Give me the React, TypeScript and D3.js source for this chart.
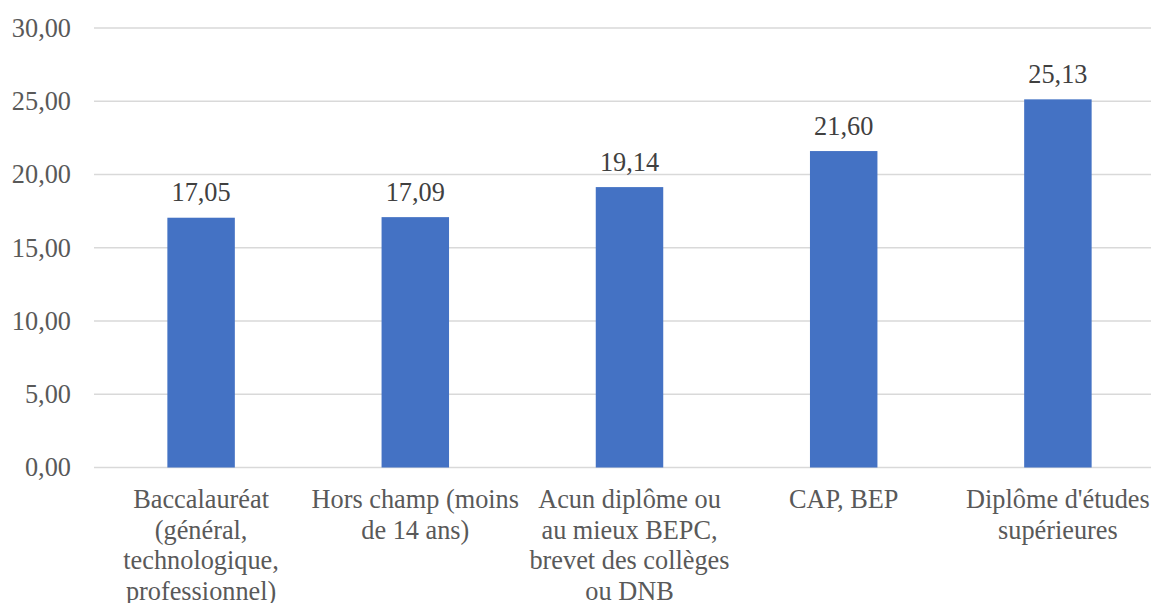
import React from "react";
import * as d3 from "d3";

const categories = [
  "Baccalauréat (général, technologique, professionnel)",
  "Hors champ (moins de 14 ans)",
  "Acun diplôme ou au mieux BEPC, brevet des collèges ou DNB",
  "CAP, BEP",
  "Diplôme d'études supérieures",
];
const categoryLines = [
  ["Baccalauréat", "(général,", "technologique,", "professionnel)"],
  ["Hors champ (moins", "de 14 ans)"],
  ["Acun diplôme ou", "au mieux BEPC,", "brevet des collèges", "ou DNB"],
  ["CAP, BEP"],
  ["Diplôme d'études", "supérieures"],
];
const values = [17.05, 17.09, 19.14, 21.6, 25.13];
const yTicks = [0, 5, 10, 15, 20, 25, 30];

const W = 1151;
const H = 603;
const left = 94;
const right = 1165;
const top = 28;
const bottom = 467.5;
const textColor = "#595959";

const fmt = (v: number) => v.toFixed(2).replace(".", ",");

export default function App() {
  const x = d3
    .scaleBand<string>()
    .domain(categories)
    .range([left, right])
    .paddingInner(0.685)
    .paddingOuter(0.3425);
  const y = d3.scaleLinear().domain([0, 30]).range([bottom, top]);

  return (
    <div style={{ position: "absolute", left: 0, top: 0 }}>
      <svg width={W} height={H}>
        {yTicks.map((t) => (
          <line key={"g" + t} x1={left} x2={W} y1={y(t)} y2={y(t)} stroke="#d9d9d9" strokeWidth={1.5} />
        ))}
        {categories.map((c, i) => (
          <rect
            key={"r" + i}
            x={x(c)}
            y={y(values[i])}
            width={x.bandwidth()}
            height={bottom - y(values[i])}
            fill="#4472c4"
          />
        ))}
        {yTicks.map((t) => (
          <text
            key={"t" + t}
            x={71}
            y={y(t) + 8.8}
            textAnchor="end"
            fill={textColor}
            style={{ fontFamily: "Liberation Serif", fontSize: 26.3 }}
          >
            {fmt(t)}
          </text>
        ))}
        {categories.map((c, i) => (
          <text
            key={"v" + i}
            x={x(c)! + x.bandwidth() / 2}
            y={y(values[i]) - 16.5}
            textAnchor="middle"
            fill="#404040"
            style={{ fontFamily: "Liberation Serif", fontSize: 26.3 }}
          >
            {fmt(values[i])}
          </text>
        ))}
        {categories.map((c, i) =>
          categoryLines[i].map((ln, j) => (
            <text
              key={"c" + i + "-" + j}
              x={x(c)! + x.bandwidth() / 2}
              y={508 + j * 30.5}
              textAnchor="middle"
              fill={textColor}
              style={{ fontFamily: "Liberation Serif", fontSize: 26.3 }}
            >
              {ln}
            </text>
          ))
        )}
      </svg>
    </div>
  );
}
